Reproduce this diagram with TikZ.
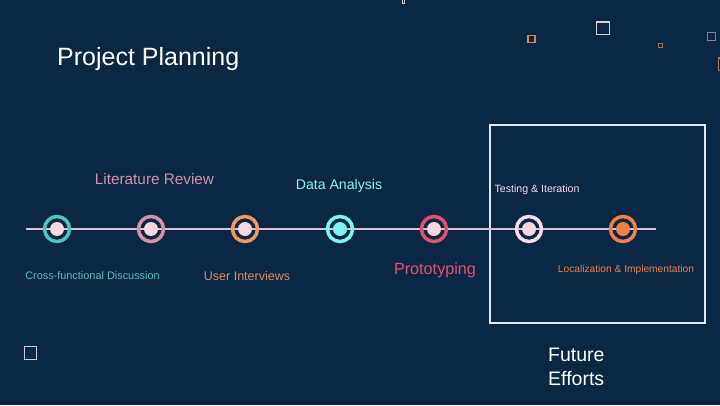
\documentclass[tikz,border=0pt]{standalone}
\usepackage{fontspec}
\setmainfont{Liberation Sans}
\usepackage{tikz}

\definecolor{bgnavy}{HTML}{0C2744}
\definecolor{axisline}{HTML}{D8C2CE}
\definecolor{teal1}{HTML}{4FC1BE}
\definecolor{rose2}{HTML}{D394A6}
\definecolor{peach3}{HTML}{EE9A66}
\definecolor{cyan4}{HTML}{7EF3F3}
\definecolor{berry5}{HTML}{E0506F}
\definecolor{blush6}{HTML}{F7DDE6}
\definecolor{orange7}{HTML}{EE8048}
\definecolor{dotpink}{HTML}{F8D8E0}
\definecolor{framegray}{HTML}{E6E6EE}

\newcommand{\fsz}[2]{\fontsize{#1}{#2}\selectfont}

\tikzset{
  ring/.style={circle, draw=#1, line width=3.5pt, minimum size=25pt, inner sep=0pt},
  core/.style={circle, fill=#1, minimum size=14pt, inner sep=0pt},
  tag/.style={text=#1, inner sep=0pt, anchor=base},
  deco/.style={draw=#1, line width=1.3pt},
}

\begin{document}
\begin{tikzpicture}[x=1pt,y=-1pt]
\fill[bgnavy] (0,0) rectangle (720,405);
\useasboundingbox (0,0) rectangle (720,405);
%\draw[help lines] (0,0) grid[step=50] (720,405);

% loose squares
\draw[deco=peach3!85!bgnavy] (528,35.5) rectangle (535,42.5);
\draw[deco=blush6!90!bgnavy] (596.5,22) rectangle (609.5,34.5);
\draw[deco=peach3!65!bgnavy, line width=1pt] (658.5,43.5) rectangle (662.5,47.5);
\draw[deco=rose2!70!bgnavy] (707.5,32.5) rectangle (715.5,40.5);
\draw[deco=peach3!70!bgnavy] (718.5,58) rectangle (728,70.5);
\draw[deco=blush6!85!bgnavy] (24.5,346.5) rectangle (36.5,359.5);
\draw[deco=blush6!90!bgnavy, line width=1pt] (402.5,-4) rectangle (404.5,3.5);

\node[tag=white, anchor=base west, font=\fsz{25}{30}] (title) at (57,65) {Project Planning};

% future box
\draw[framegray, line width=1.5pt] (490,125) rectangle (705,323);
\node[tag=white, anchor=base west, align=left, font=\fsz{19.5}{24}] (future) at (548,385) {Future\\Efforts};

% timeline
\coordinate (tl-start) at (26,229);
\coordinate (tl-end) at (656,229);
\draw[axisline, line width=2pt] (tl-start) -- (tl-end);

\node[ring=teal1] (m1) at (57,229) {};
\node[ring=rose2] (m2) at (151,229) {};
\node[ring=peach3] (m3) at (245,229) {};
\node[ring=cyan4] (m4) at (340,229) {};
\node[ring=berry5] (m5) at (434,229) {};
\node[ring=blush6] (m6) at (529,229) {};
\node[ring=orange7] (m7) at (623,229) {};

\foreach \m/\c in {m1/dotpink, m2/dotpink, m3/dotpink, m4/cyan4, m5/dotpink, m6/dotpink, m7/orange7}
  \node[core=\c] at (\m) {};

\node[tag=teal1, font=\fsz{10.9}{13}] (lbl1) at (92.5,279) {Cross-functional Discussion};
\node[tag=rose2, font=\fsz{15.3}{18}] (lbl2) at (154.5,184) {Literature Review};
\node[tag=peach3!90!bgnavy, font=\fsz{12.5}{15}] (lbl3) at (247,280.5) {User Interviews};
\node[tag=cyan4, font=\fsz{14.1}{17}] (lbl4) at (339,189) {Data Analysis};
\node[tag=berry5, font=\fsz{16.2}{19}] (lbl5) at (435,274) {Prototyping};
\node[tag=blush6, font=\fsz{10.6}{13}] (lbl6) at (537,192.5) {Testing \& Iteration};
\node[tag=orange7, font=\fsz{10.2}{12}] (lbl7) at (626,272.5) {Localization \& Implementation};
\end{tikzpicture}
\end{document}
